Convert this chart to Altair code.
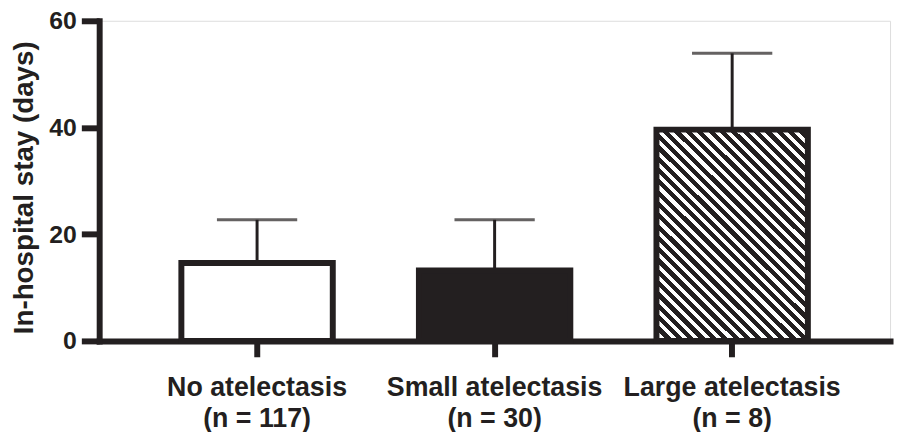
import altair as alt
import pandas as pd

categories = ["No atelectasis", "Small atelectasis", "Large atelectasis"]
n_labels = ["(n = 117)", "(n = 30)", "(n = 8)"]
means = [14.6, 13.2, 39.6]
upper = [22.7, 22.7, 53.9]
fill_kind = ["open", "solid", "hatched"]

INK = "#231f20"
FONT = "Liberation Sans, Arial, Helvetica, sans-serif"

df = pd.DataFrame({
    "label": [c + "|" + n for c, n in zip(categories, n_labels)],
    "mean": means,
    "upper": upper,
    "kind": fill_kind,
})
order = list(df["label"])

# hatch pattern for the third bar (diagonal stripes via hard-stop gradient)
bw, bh = 152.5, 213.5
k = (bw + bh) / (bw * bw + bh * bh)
n_stripes = 32
stops = []
for i in range(n_stripes):
    a = i / n_stripes
    m = (i + 0.55) / n_stripes
    b = (i + 1) / n_stripes
    stops += [
        {"offset": a, "color": INK},
        {"offset": m, "color": INK},
        {"offset": m, "color": "#ffffff"},
        {"offset": b, "color": "#ffffff"},
    ]
hatch = {"gradient": "linear", "x1": 0, "y1": 1, "x2": k * bw, "y2": 1 - k * bh, "stops": stops}

x = alt.X(
    "label:N",
    sort=order,
    scale=alt.Scale(paddingInner=0.3626, paddingOuter=0.346),
    axis=alt.Axis(
        title=None,
        labelExpr="split(datum.label, '|')",
        labelAngle=0,
        labelFont=FONT,
        labelFontSize=27,
        labelFontWeight="bold",
        labelColor=INK,
        labelLineHeight=31,
        labelPadding=18,
        labelLimit=400,
        tickSize=16,
        tickWidth=6,
        tickColor=INK,
        domainWidth=6,
        domainColor=INK,
        domainCap="square",
    ),
)

yaxis = alt.Axis(
    title="In-hospital stay (days)",
    titleFont=FONT,
    titleFontSize=28,
    titleFontWeight="bold",
    titleColor=INK,
    titleAngle=270,
    titleAlign="center",
    titleBaseline="alphabetic",
    titleX=-67,
    titleY=168,
    values=[0, 20, 40, 60],
    labelFont=FONT,
    labelFontSize=25,
    labelFontWeight="bold",
    labelColor=INK,
    labelPadding=5,
    tickSize=18,
    tickWidth=6,
    tickColor=INK,
    domainWidth=6,
    domainColor=INK,
    domainCap="square",
    grid=False,
)
yscale = alt.Scale(domain=[0, 60], nice=False, zero=True)

base = alt.Chart(df)

rule = base.mark_rule(strokeWidth=3, color=INK).encode(
    x=x, y=alt.Y("mean:Q", scale=yscale, axis=yaxis), y2="upper:Q"
)
cap = base.mark_tick(size=81, thickness=3, color=INK).encode(
    x=x, y=alt.Y("upper:Q", scale=yscale, axis=yaxis)
)
bar_open = base.transform_filter("datum.kind == 'open'").mark_bar(
    fill="#ffffff", stroke=INK, strokeWidth=6
).encode(x=x, y=alt.Y("mean:Q", scale=yscale, axis=yaxis))
bar_solid = base.transform_filter("datum.kind == 'solid'").mark_bar(
    fill=INK, stroke=INK, strokeWidth=6
).encode(x=x, y=alt.Y("mean:Q", scale=yscale, axis=yaxis))
bar_hatch = base.transform_filter("datum.kind == 'hatched'").mark_bar(
    fill=hatch, stroke=INK, strokeWidth=6
).encode(x=x, y=alt.Y("mean:Q", scale=yscale, axis=yaxis))

chart = alt.layer(rule, cap, bar_open, bar_solid, bar_hatch).properties(
    width=798,
    height=323,
    autosize=alt.AutoSizeParams(type="none"),
    padding={"left": 92, "top": 11, "right": 6, "bottom": 90},
).configure_view(stroke=None).configure(background="#ffffff")

chart.save("out.html", embed_options={"renderer": "svg", "actions": False})
